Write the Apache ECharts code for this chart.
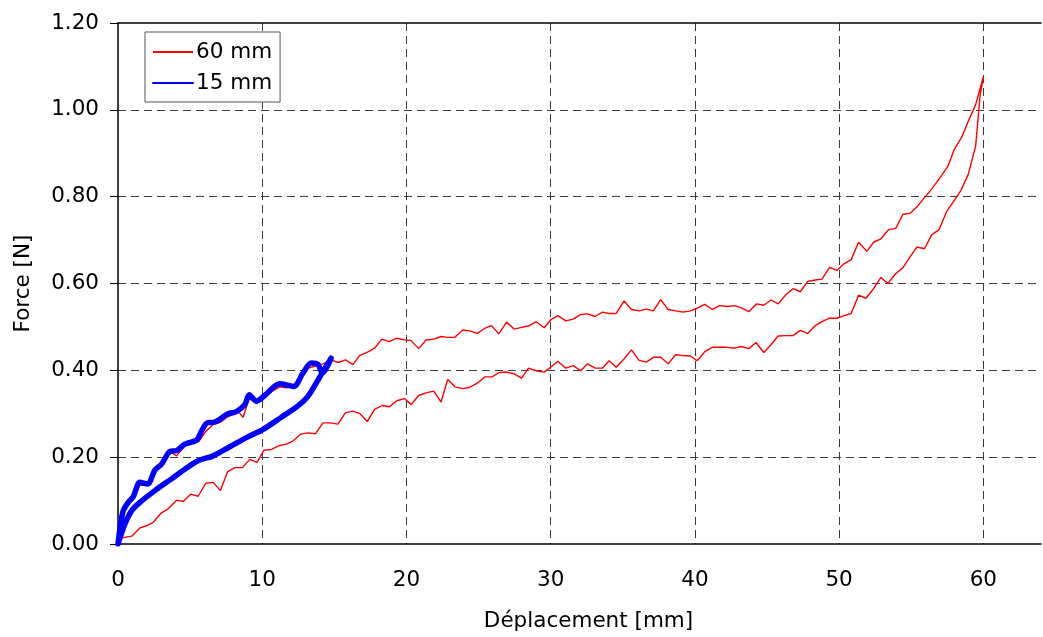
<!DOCTYPE html>
<html>
<head>
<meta charset="utf-8">
<script src="https://cdn.jsdelivr.net/npm/echarts@6/dist/echarts.min.js"></script>
<style>html,body{margin:0;padding:0;background:#fff;}#c{width:1043px;height:637px;}</style>
</head>
<body>
<div id="c"></div>
<script>
const xTicks = [0, 10, 20, 30, 40, 50, 60];
const yTicks = [0, 0.2, 0.4, 0.6, 0.8, 1.0, 1.2];
const seriesNames = ['60 mm', '15 mm'];

const red60Load = [[0,0],[0.3,0.06],[0.6,0.09],[1.0,0.105],[1.5,0.135],[2.0,0.135],[2.5,0.162],[3.0,0.18],[3.6,0.213],[4.06,0.203],[4.6,0.225],[5.1,0.232],[5.6,0.236],[6.1,0.26],[6.6,0.275],[7.1,0.28],[7.6,0.293],[8.1,0.3],[8.33,0.306],[8.67,0.292],[9.1,0.335],[9.6,0.325],[10.1,0.335],[10.6,0.35],[11.2,0.362],[11.7,0.36],[12.2,0.363],[12.7,0.385],[13.2,0.405],[13.7,0.41],[14.2,0.415],[14.79,0.424],[15.25,0.418],[15.78,0.424],[16.29,0.413],[16.75,0.434],[17.3,0.442],[17.79,0.451],[18.3,0.472],[18.8,0.466],[19.33,0.474],[19.86,0.47],[20.3,0.469],[20.85,0.45],[21.36,0.47],[21.9,0.472],[22.4,0.478],[22.86,0.476],[23.36,0.476],[23.9,0.493],[24.4,0.491],[24.9,0.485],[25.45,0.497],[25.9,0.503],[26.4,0.484],[26.94,0.511],[27.47,0.495],[27.98,0.499],[28.46,0.502],[29.0,0.512],[29.55,0.498],[30.0,0.516],[30.5,0.526],[31.05,0.514],[31.56,0.518],[32.09,0.529],[32.55,0.53],[33.08,0.524],[33.59,0.534],[34.05,0.531],[34.55,0.531],[35.09,0.56],[35.6,0.54],[36.13,0.537],[36.63,0.541],[37.12,0.537],[37.63,0.563],[38.15,0.54],[38.66,0.537],[39.17,0.534],[39.7,0.537],[40.16,0.543],[40.69,0.552],[41.2,0.54],[41.71,0.549],[42.24,0.547],[42.74,0.549],[43.23,0.544],[43.74,0.535],[44.27,0.553],[44.78,0.55],[45.28,0.562],[45.77,0.553],[46.28,0.573],[46.8,0.588],[47.31,0.581],[47.82,0.605],[48.35,0.608],[48.81,0.61],[49.34,0.637],[49.85,0.63],[50.36,0.646],[50.84,0.655],[51.35,0.695],[51.93,0.674],[52.39,0.695],[52.9,0.703],[53.43,0.724],[53.93,0.727],[54.42,0.759],[54.93,0.762],[55.39,0.776],[55.85,0.795],[56.43,0.818],[57.0,0.844],[57.53,0.869],[57.99,0.909],[58.5,0.937],[58.96,0.974],[59.47,1.012],[60.0,1.076]];

const red60Unload = [[60,1.076],[59.77,1.031],[59.47,0.917],[58.96,0.852],[58.46,0.815],[57.92,0.788],[57.46,0.766],[56.93,0.724],[56.42,0.712],[55.92,0.68],[55.39,0.684],[54.93,0.662],[54.42,0.636],[53.93,0.623],[53.38,0.6],[52.9,0.614],[52.39,0.588],[51.86,0.566],[51.35,0.573],[50.84,0.531],[50.36,0.526],[49.85,0.52],[49.34,0.52],[48.81,0.512],[48.35,0.503],[47.82,0.485],[47.31,0.492],[46.8,0.48],[46.28,0.48],[45.77,0.479],[45.28,0.459],[44.78,0.441],[44.24,0.464],[43.74,0.45],[43.23,0.455],[42.74,0.451],[42.24,0.453],[41.71,0.453],[41.2,0.453],[40.69,0.443],[40.16,0.422],[39.7,0.433],[39.17,0.434],[38.66,0.436],[38.15,0.415],[37.63,0.43],[37.12,0.43],[36.63,0.419],[36.13,0.423],[35.6,0.447],[35.09,0.426],[34.55,0.407],[34.05,0.422],[33.59,0.405],[33.08,0.405],[32.55,0.415],[32.09,0.399],[31.56,0.411],[31.05,0.405],[30.5,0.421],[30.0,0.407],[29.55,0.396],[29.0,0.399],[28.46,0.405],[27.98,0.382],[27.47,0.392],[26.94,0.396],[26.44,0.395],[25.93,0.385],[25.45,0.385],[24.93,0.371],[24.41,0.361],[23.9,0.358],[23.37,0.362],[22.86,0.379],[22.4,0.327],[21.89,0.352],[21.36,0.348],[20.85,0.342],[20.32,0.321],[19.86,0.335],[19.33,0.33],[18.82,0.316],[18.32,0.319],[17.79,0.31],[17.28,0.282],[16.75,0.301],[16.24,0.306],[15.76,0.302],[15.25,0.276],[14.72,0.279],[14.21,0.279],[13.7,0.254],[13.17,0.256],[12.66,0.253],[12.13,0.237],[11.67,0.23],[11.21,0.227],[10.64,0.218],[10.12,0.216],[9.64,0.188],[9.13,0.195],[8.63,0.176],[8.1,0.176],[7.59,0.166],[7.1,0.123],[6.6,0.142],[6.09,0.14],[5.56,0.11],[5.05,0.115],[4.52,0.098],[4.06,0.101],[3.48,0.081],[2.98,0.071],[2.44,0.05],[1.98,0.042],[1.52,0.037],[0.95,0.018],[0.25,0.014],[0,0]];

const blue15Load = [[0,0],[0.2,0.05],[0.37,0.077],[0.71,0.096],[1.06,0.109],[1.52,0.142],[2.05,0.138],[2.56,0.17],[3.02,0.184],[3.6,0.213],[4.06,0.215],[4.64,0.23],[5.44,0.239],[5.79,0.26],[6.18,0.279],[6.71,0.281],[7.63,0.3],[8.21,0.305],[8.79,0.321],[9.1,0.344],[9.6,0.329],[10.17,0.342],[11.21,0.369],[12.18,0.363],[12.83,0.394],[13.4,0.417],[13.86,0.414],[14.17,0.394],[14.78,0.428]];

const blue15Unload = [[14.78,0.428],[14.21,0.397],[13.75,0.371],[13.17,0.34],[12.48,0.318],[11.33,0.292],[10.06,0.264],[8.9,0.245],[7.75,0.224],[6.6,0.203],[5.56,0.192],[4.75,0.175],[3.71,0.15],[2.56,0.123],[1.52,0.096],[0.95,0.077],[0.48,0.046],[0,0]];

const FONT = '"DejaVu Sans", "Liberation Sans", sans-serif';
const FS = 21.5;
const chart = echarts.init(document.getElementById('c'), null, {renderer: 'canvas'});
const gridStyle = {type: [8, 5], color: '#3a3a3a', width: 1};

chart.setOption({
  backgroundColor: '#fff',
  animation: false,
  textStyle: {fontFamily: FONT},
  grid: {left: 118, top: 23, bottom: 90, right: 2, show: false},
  legend: {
    orient: 'vertical', left: 145, top: 32,
    data: seriesNames,
    backgroundColor: '#fff', borderColor: '#555', borderWidth: 1,
    padding: [9, 8, 8, 7],
    itemWidth: 40, itemHeight: 14, itemGap: 9,
    itemStyle: {opacity: 0},
    textStyle: {fontSize: FS, fontFamily: FONT, color: '#000', padding: [0, 0, 0, -2]}
  },
  xAxis: [{
    type: 'value', min: 0, max: 64, interval: 10,
    name: 'Déplacement [mm]', nameLocation: 'middle', nameGap: 66,
    nameTextStyle: {fontSize: FS, fontFamily: FONT, color: '#000', padding: [0, 0, 0, 18]},
    axisLine: {show: true, lineStyle: {color: '#000', width: 1.5}},
    axisTick: {show: false},
    axisLabel: {fontSize: FS, fontFamily: FONT, color: '#000', margin: 25, showMaxLabel: false,
      formatter: v => xTicks.includes(v) ? String(v) : ''},
    splitLine: {show: true, showMinLine: false, showMaxLine: false, lineStyle: gridStyle}
  }, {
    type: 'value', min: 0, max: 64, position: 'top',
    axisLine: {show: true, lineStyle: {color: '#000', width: 1.5}},
    axisTick: {show: false}, axisLabel: {show: false}, splitLine: {show: false}
  }],
  yAxis: {
    type: 'value', min: 0, max: 1.2, interval: 0.2,
    name: 'Force [N]', nameLocation: 'middle', nameGap: 84,
    nameTextStyle: {fontSize: FS, fontFamily: FONT, color: '#000'},
    axisLine: {show: true, lineStyle: {color: '#000', width: 1.5}},
    axisTick: {show: true, inside: false, length: 8, lineStyle: {color: '#000'}},
    axisLabel: {fontSize: FS, fontFamily: FONT, color: '#000', margin: 19,
      formatter: v => yTicks.some(t => Math.abs(t - v) < 1e-9) ? v.toFixed(2) : ''},
    splitLine: {show: true, showMinLine: false, showMaxLine: false, lineStyle: gridStyle}
  },
  series: [
    {
      name: seriesNames[0], type: 'line', symbol: 'none', showSymbol: false,
      data: red60Load.concat(red60Unload.slice(1)),
      lineStyle: {color: '#ff0000', width: 1.4}, itemStyle: {color: '#ff0000'}, z: 2
    },
    {
      name: seriesNames[1], type: 'line', symbol: 'none', showSymbol: false, smooth: 0.3,
      data: blue15Load.concat(blue15Unload.slice(1)),
      lineStyle: {color: '#0000ff', width: 5.5, cap: 'round', join: 'round'}, itemStyle: {color: '#0000ff'}, z: 3
    }
  ]
});
</script>
</body>
</html>
